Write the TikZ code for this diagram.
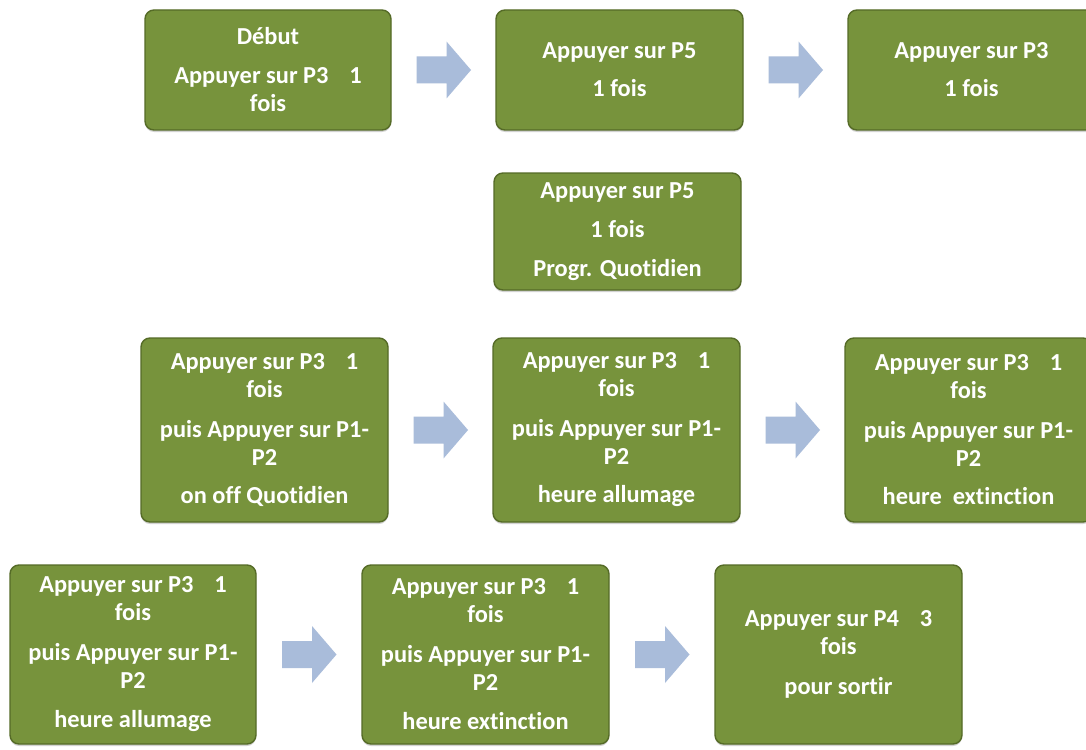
\documentclass[tikz,border=0pt]{standalone}
\usepackage{fontspec}
\setmainfont{Carlito}[Ligatures=NoCommon]
\usetikzlibrary{calc,shadows}
\definecolor{boxgreen}{HTML}{77933C}
\definecolor{boxedge}{HTML}{556B27}
\definecolor{arrowblue}{HTML}{A9BCDA}
\newcommand{\gapone}{\hspace{0.85em}}
\tikzset{
  stepbox/.style={rounded corners=9pt, fill=boxgreen, draw=boxedge, line width=1.4pt,
    drop shadow={opacity=0.35, shadow xshift=0pt, shadow yshift=-2pt},
    text=white, align=center, inner sep=0pt, minimum width=247pt,
    font=\fontsize{24.4}{28}\selectfont\bfseries},
  blockarrow/.pic={\fill[arrowblue] (-27,-13.5) -- (3,-13.5) -- (3,-28.5) -- (27.5,0) -- (3,28.5) -- (3,13.5) -- (-27,13.5) -- cycle;}
}
\begin{document}
\begin{tikzpicture}[x=1pt,y=-1pt]
\useasboundingbox (0,0) rectangle (1086,749);
\fill[white] (0,0) rectangle (1086,749);
% row 1
\node[stepbox, minimum width=246pt, minimum height=120pt] (a) at (268,70) {Début\\[11pt]Appuyer sur P3\gapone 1\\fois};
\node[stepbox, minimum height=120pt] (b) at (619.5,70) {Appuyer sur P5\\[10pt]1 fois};
\node[stepbox, minimum height=120pt] (c) at (971.5,70) {Appuyer sur P3\\[10pt]1 fois};
% row 2
\node[stepbox, minimum height=117pt] (d) at (617.5,231.5) {Appuyer sur P5\\[11pt]1 fois\\[11pt]Progr. Quotidien};
% row 3
\node[stepbox, minimum height=184pt] (e) at (264.5,430) {Appuyer sur P3\gapone 1\\fois\\[12pt]puis Appuyer sur P1-\\P2\\[10pt]on off Quotidien};
\node[stepbox, minimum height=184pt] (f) at (616.5,430) {Appuyer sur P3\gapone 1\\fois\\[12pt]puis Appuyer sur P1-\\P2\\[10pt]heure allumage};
\node[stepbox, minimum height=184pt] (g) at (968.5,430) {Appuyer sur P3\gapone 1\\fois\\[12pt]puis Appuyer sur P1-\\P2\\[10pt]heure\ \ extinction};
% row 4
\node[stepbox, minimum width=246pt, minimum height=179pt] (h) at (133,654.5) {Appuyer sur P3\gapone 1\\fois\\[12pt]puis Appuyer sur P1-\\P2\\[11pt]heure allumage};
\node[stepbox, minimum height=179pt] (i) at (485.5,654.5) {Appuyer sur P3\gapone 1\\fois\\[12pt]puis Appuyer sur P1-\\P2\\[11pt]heure extinction};
\node[stepbox, minimum height=179pt] (j) at (838.5,654.5) {Appuyer sur P4\gapone 3\\fois\\[12pt]pour sortir};
% arrows
\pic at ($(a.east)!0.5!(b.west)$) {blockarrow};
\pic at ($(b.east)!0.5!(c.west)$) {blockarrow};
\pic at ($(e.east)!0.5!(f.west)$) {blockarrow};
\pic at ($(f.east)!0.5!(g.west)$) {blockarrow};
\pic at ($(h.east)!0.5!(i.west)$) {blockarrow};
\pic at ($(i.east)!0.5!(j.west)$) {blockarrow};
\end{tikzpicture}
\end{document}
